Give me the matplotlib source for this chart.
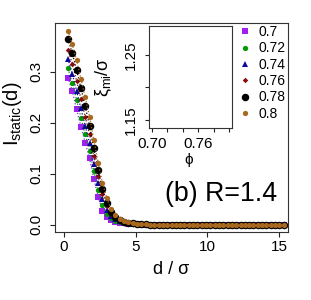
import matplotlib
matplotlib.use("Agg")
import matplotlib.pyplot as plt

plt.rcParams['font.family'] = ['Liberation Sans', 'DejaVu Sans']
plt.rcParams['mathtext.fontset'] = 'custom'
plt.rcParams['mathtext.rm'] = 'Liberation Sans'
plt.rcParams['mathtext.it'] = 'Liberation Sans'

# ---- data ----
d = [0.3, 0.6, 0.9, 1.2, 1.5, 1.8, 2.1, 2.4, 2.7, 3.0, 3.3, 3.6, 3.9, 4.2, 4.5,
     4.8, 5.1, 5.4, 5.7, 6.0, 6.3, 6.6, 6.9, 7.2, 7.5, 7.8, 8.1, 8.4, 8.7, 9.0,
     9.3, 9.6, 9.9, 10.2, 10.5, 10.8, 11.1, 11.4, 11.7, 12.0, 12.3, 12.6, 12.9,
     13.2, 13.5, 13.8, 14.1, 14.4, 14.7, 15.0, 15.3]

tail = [0.0, 0.0, 0.0, 0.0, 0.0, 0.0, 0.0, 0.0, 0.0, 0.0, 0.0, 0.0, 0.0, 0.0,
        0.0, 0.0, 0.0, 0.0, 0.0, 0.0, 0.0, 0.0, 0.0, 0.0, 0.0, 0.0, 0.0, 0.0,
        0.0, 0.0, 0.0, 0.0]

I_070 = [0.288, 0.262, 0.226, 0.192, 0.161, 0.130, 0.090, 0.055, 0.028, 0.015,
         0.009, 0.006, 0.004, 0.003, 0.002, 0.001, 0.001, 0.0, 0.0] + tail
I_072 = [0.306, 0.278, 0.245, 0.210, 0.177, 0.145, 0.105, 0.068, 0.038, 0.022,
         0.013, 0.008, 0.005, 0.004, 0.003, 0.002, 0.001, 0.001, 0.0] + tail
I_074 = [0.325, 0.296, 0.262, 0.228, 0.194, 0.160, 0.120, 0.082, 0.050, 0.029,
         0.017, 0.011, 0.007, 0.005, 0.003, 0.002, 0.001, 0.001, 0.0] + tail
I_076 = [0.343, 0.315, 0.282, 0.247, 0.212, 0.177, 0.135, 0.095, 0.060, 0.036,
         0.021, 0.013, 0.008, 0.005, 0.004, 0.002, 0.002, 0.001, 0.0] + tail
I_078 = [0.364, 0.336, 0.303, 0.268, 0.232, 0.194, 0.150, 0.108, 0.070, 0.043,
         0.025, 0.015, 0.009, 0.006, 0.004, 0.003, 0.002, 0.001, 0.001] + tail
I_080 = [0.380, 0.354, 0.322, 0.286, 0.250, 0.212, 0.166, 0.122, 0.082, 0.052,
         0.031, 0.019, 0.012, 0.008, 0.005, 0.003, 0.002, 0.001, 0.001] + tail

phi_labels = ["0.7", "0.72", "0.74", "0.76", "0.78", "0.8"]
series = [I_070, I_072, I_074, I_076, I_078, I_080]
colors = ["#A020F0", "#009A00", "#0A0A9A", "#8B0A0A", "#000000", "#A8691E"]
markers = ["s", "o", "^", "D", "o", "o"]
msizes = [3.8, 3.8, 4.4, 2.8, 5.4, 3.8]

main_xticks = [0, 5, 10, 15]
main_yticks = [0.0, 0.1, 0.2, 0.3]
main_yticklabels = ["0.0", "0.1", "0.2", "0.3"]

inset_xticks = [0.70, 0.72, 0.74, 0.76, 0.78, 0.80]
inset_xticklabels = ["0.70", "", "", "0.76", "", ""]
inset_yticks = [1.15, 1.20, 1.25]
inset_yticklabels = ["1.15", "", "1.25"]

# ---- figure ----
W, H = 311, 300
fig = plt.figure(figsize=(W / 100, H / 100), dpi=100)

def fx(px):
    return px / W

def fy(py):
    return 1 - py / H

ax = fig.add_axes([fx(55), fy(232), fx(288) - fx(55), fy(23) - fy(232)])
for y, c, m, s, lab in zip(series, colors, markers, msizes, phi_labels):
    ax.plot(d, y, color=c, marker=m, markersize=s, linestyle=':', linewidth=0.9,
            markeredgewidth=0, label=lab)

ax.set_xlim(-0.6, 15.6)
ax.set_ylim(-0.014, 0.395)
ax.set_xticks(main_xticks)
ax.set_yticks(main_yticks)
ax.set_yticklabels(main_yticklabels, rotation=90, va='center')
ax.tick_params(axis='both', direction='out', length=3.6, width=0.8,
               labelsize=11, color='#222222')
ax.tick_params(axis='x', pad=2.5)
ax.tick_params(axis='y', pad=5)
for sp in ax.spines.values():
    sp.set_linewidth(0.8)
    sp.set_color('#333333')

fig.text(fx(13), fy(114), r'$\mathrm{I}_{\mathrm{static}}\mathrm{(d)}$',
         rotation=90, ha='center', va='center', fontsize=14.5)
fig.text(fx(171), fy(269), 'd / σ', ha='center', va='center', fontsize=13)

ax.text(fx(165), fy(194), '(b) R=1.4', transform=fig.transFigure,
        ha='left', va='center', fontsize=19.3)

leg = ax.legend(loc='upper left', bbox_to_anchor=(fx(238), fy(25)),
                bbox_transform=fig.transFigure, frameon=False, fontsize=10,
                handlelength=1.0, handletextpad=0.45, labelspacing=0.17,
                borderpad=0, borderaxespad=0)
for h in leg.legend_handles:
    h.set_linestyle('None')

# ---- inset ----
axi = fig.add_axes([fx(149), fy(128), fx(232) - fx(149), fy(26) - fy(128)])
axi.set_xlim(0.696, 0.804)
axi.set_ylim(1.1377, 1.2946)
axi.set_xticks(inset_xticks)
axi.set_xticklabels(inset_xticklabels)
axi.set_yticks(inset_yticks)
axi.set_yticklabels(inset_yticklabels, rotation=90, va='center')
axi.tick_params(axis='both', direction='out', length=3.2, width=0.8,
                labelsize=11, color='#222222')
axi.tick_params(axis='x', pad=3)
axi.tick_params(axis='y', pad=5)
for sp in axi.spines.values():
    sp.set_linewidth(0.8)
    sp.set_color('#333333')
fig.text(fx(104), fy(77), r'$\xi_{\mathrm{mi}}\mathrm{/}\sigma$', rotation=90,
         ha='center', va='center', fontsize=13)
fig.text(fx(189), fy(160), 'ϕ', ha='center', va='center', fontsize=11)

fig.savefig('out.png', dpi=100)
